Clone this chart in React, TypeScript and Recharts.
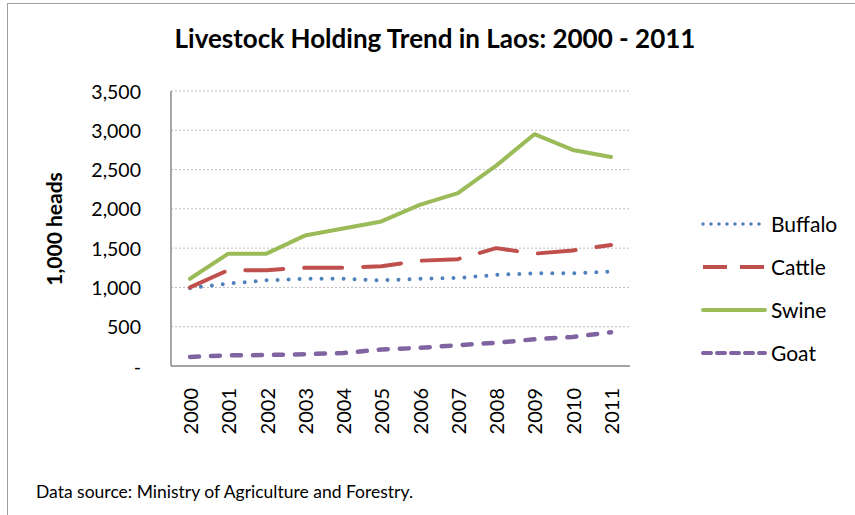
import React from "react";
import { LineChart, Line, XAxis, YAxis, CartesianGrid, Legend } from "recharts";

const years = ["2000", "2001", "2002", "2003", "2004", "2005", "2006", "2007", "2008", "2009", "2010", "2011"];
const buffalo = [990, 1050, 1090, 1110, 1110, 1090, 1110, 1120, 1160, 1180, 1180, 1200];
const cattle = [1000, 1220, 1220, 1250, 1250, 1270, 1340, 1360, 1500, 1430, 1470, 1540];
const swine = [1110, 1430, 1430, 1660, 1750, 1840, 2050, 2200, 2550, 2950, 2750, 2660];
const goat = [115, 135, 140, 150, 165, 210, 230, 265, 295, 340, 370, 430];
const yTicks = [0, 500, 1000, 1500, 2000, 2500, 3000, 3500];

const data = years.map((y, i) => ({
  year: y,
  Buffalo: buffalo[i],
  Cattle: cattle[i],
  Swine: swine[i],
  Goat: goat[i],
}));

const FONT = "Lato, 'Open Sans', sans-serif";

const series = [
  { key: "Buffalo", color: "#4f81bd", width: 4, dash: "0 11", legendDash: "0 8" },
  { key: "Cattle", color: "#c0504d", width: 4, dash: "38 21", legendDash: "24 13" },
  { key: "Swine", color: "#9bbb59", width: 4, dash: undefined, legendDash: undefined },
  { key: "Goat", color: "#8064a2", width: 4.5, dash: "9 12", legendDash: "8 6" },
];

const fmt = (v: number) => (v === 0 ? "-" : v.toLocaleString("en-US"));

const XTick = (props: any) => {
  const { x, y, payload } = props;
  return (
    <text
      transform={`translate(${x},${y}) rotate(-90)`}
      textAnchor="end"
      dominantBaseline="central"
      fontFamily={FONT}
      fontSize={20}
      fill="#000"
    >
      {payload.value}
    </text>
  );
};

const YTick = (props: any) => {
  const { x, y, payload } = props;
  return (
    <text x={x} y={y} textAnchor="end" dominantBaseline="central" fontFamily={FONT} fontSize={19.5} fill="#000">
      {fmt(payload.value)}
    </text>
  );
};

const renderLegend = () => (
  <div style={{ fontFamily: FONT, fontSize: 21, color: "#000" }}>
    {series.map((s) => (
      <div key={s.key} style={{ display: "flex", alignItems: "center", height: 43 }}>
        <svg width={68} height={10} style={{ marginRight: 3 }}>
          <line
            x1={3}
            y1={5}
            x2={65}
            y2={5}
            stroke={s.color}
            strokeWidth={s.key === "Buffalo" ? 3.5 : 4}
            strokeDasharray={s.legendDash}
            strokeLinecap={s.key === "Cattle" ? "butt" : "round"}
          />
        </svg>
        <span>{s.key}</span>
      </div>
    ))}
  </div>
);

export default function App() {
  return (
    <div style={{ position: "absolute", left: 0, top: 0, width: 855, height: 515, background: "#fff", overflow: "hidden" }}>
      <div
        style={{
          position: "absolute",
          left: 7,
          top: 3,
          width: 860,
          height: 520,
          borderLeft: "1.5px solid #a0a0a0",
          borderTop: "1.5px solid #a0a0a0",
        }}
      />
      <div
        style={{
          position: "absolute",
          left: 0,
          width: 870,
          top: 22,
          textAlign: "center",
          fontFamily: FONT,
          fontWeight: 700,
          fontSize: 26,
          color: "#000",
        }}
      >
        Livestock Holding Trend in Laos: 2000 - 2011
      </div>
      <div
        style={{
          position: "absolute",
          left: 53,
          top: 229,
          transform: "translate(-50%, -50%) rotate(-90deg)",
          fontFamily: FONT,
          fontWeight: 700,
          fontSize: 21,
          whiteSpace: "nowrap",
          color: "#000",
        }}
      >
        1,000 heads
      </div>
      <div
        style={{
          position: "absolute",
          left: 36,
          top: 481,
          fontFamily: FONT,
          fontSize: 17.5,
          color: "#000",
        }}
      >
        Data source: Ministry of Agriculture and Forestry.
      </div>
      <div style={{ position: "absolute", left: 0, top: 0 }}>
        <LineChart width={855} height={515} data={data} margin={{ top: 91, right: 75, bottom: 0, left: 0 }}>
          <CartesianGrid vertical={false} stroke="#bdbdbd" strokeDasharray="2 2" strokeWidth={1} />
          <XAxis
            dataKey="year"
            height={149}
            tick={<XTick />}
            tickLine={false}
            tickSize={0}
            tickMargin={22}
            stroke="#8a8a8a"
            strokeWidth={1.5}
            interval={0}
            padding={{ left: 19, right: 19 }}
          />
          <YAxis
            width={171}
            domain={[0, 3500]}
            ticks={yTicks}
            tick={<YTick />}
            tickLine={false}
            tickSize={0}
            tickMargin={30}
            stroke="#8a8a8a"
            strokeWidth={1.5}
          />
          <Legend
            layout="vertical"
            align="right"
            verticalAlign="top"
            content={renderLegend}
            wrapperStyle={{ left: 700, top: 202, width: 150 }}
          />
          {series.map((s) => (
            <Line
              key={s.key}
              type="linear"
              dataKey={s.key}
              stroke={s.color}
              strokeWidth={s.width}
              strokeDasharray={s.dash}
              strokeLinecap="round"
              strokeLinejoin="round"
              dot={false}
              activeDot={false}
              isAnimationActive={false}
            />
          ))}
        </LineChart>
      </div>
    </div>
  );
}
